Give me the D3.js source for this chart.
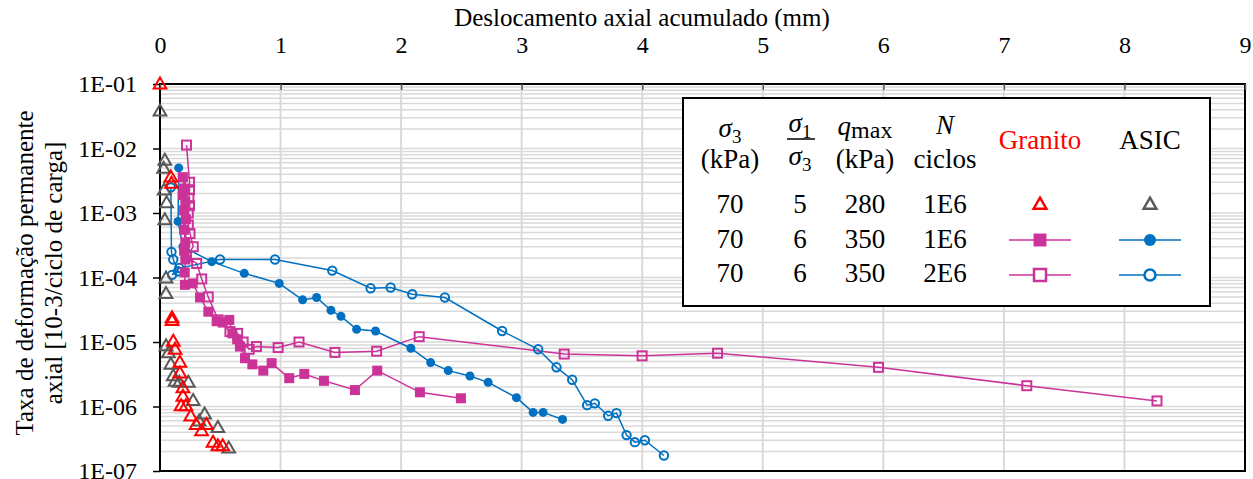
<!DOCTYPE html>
<html>
<head>
<meta charset="utf-8">
<script src="https://cdn.jsdelivr.net/npm/d3@7"></script>
<style>
  body { margin: 0; background: #fff; }
  svg text { font-family: "Liberation Serif", "Times New Roman", serif; }
</style>
</head>
<body>
<script>
// data: [deslocamento (mm), taxa]
var granito5 = [[0.0, 9.7e-2], [0.09, 3.5e-3], [0.095, 2.8e-3], [0.10, 2.3e-5], [0.10, 2.1e-5],
  [0.11, 1.0e-5], [0.125, 7.5e-6], [0.165, 4.7e-6], [0.165, 3.2e-6], [0.19, 1.9e-6], [0.19, 1.4e-6],
  [0.175, 1.0e-6], [0.215, 1.0e-6], [0.255, 6.9e-7], [0.30, 5.1e-7], [0.345, 4.1e-7], [0.385, 5.1e-7],
  [0.44, 2.7e-7], [0.48, 2.4e-7], [0.52, 2.4e-7]];
var asic5 = [[0.0, 3.7e-2], [0.04, 6.4e-3], [0.03, 4.8e-3], [0.035, 2.2e-3], [0.055, 1.4e-3],
  [0.04, 7.6e-4], [0.05, 9.5e-5], [0.05, 5.5e-5], [0.05, 8.5e-6], [0.07, 6.6e-6], [0.09, 4.4e-6],
  [0.11, 2.9e-6], [0.125, 2.4e-6], [0.16, 2.3e-6], [0.235, 2.3e-6], [0.275, 1.2e-6], [0.325, 5.8e-7],
  [0.37, 7.4e-7], [0.48, 4.6e-7], [0.57, 2.2e-7]];
var granito6_1e6 = [[0.19, 3.6e-3], [0.20, 2.4e-3], [0.19, 1.9e-3], [0.21, 1.5e-3], [0.20, 1.1e-3],
  [0.215, 8.0e-4], [0.20, 5.5e-4], [0.21, 3.5e-4], [0.20, 2.6e-4], [0.21, 1.9e-4], [0.205, 1.2e-4],
  [0.207, 7.7e-5], [0.271, 8.1e-5], [0.332, 4.9e-5], [0.401, 2.95e-5], [0.47, 2.1e-5], [0.52, 2.0e-5],
  [0.575, 2.2e-5], [0.60, 1.36e-5], [0.64, 1.1e-5], [0.663, 8.5e-6], [0.705, 5.6e-6], [0.766, 4.5e-6],
  [0.857, 3.6e-6], [0.926, 4.7e-6], [1.072, 2.75e-6], [1.197, 3.2e-6], [1.36, 2.5e-6], [1.617, 1.8e-6],
  [1.802, 3.6e-6], [2.156, 1.66e-6], [2.496, 1.34e-6]];
var granito6_2e6 = [[0.22, 1.13e-2], [0.245, 3.0e-3], [0.245, 2.3e-3], [0.24, 1.7e-3], [0.245, 1.3e-3],
  [0.235, 1.0e-3], [0.235, 6.5e-4], [0.249, 4.8e-4], [0.276, 3.0e-4], [0.22, 2.1e-4], [0.304, 1.65e-4],
  [0.346, 9.5e-5], [0.40, 5.0e-5], [0.483, 2.2e-5], [0.58, 1.45e-5], [0.644, 1.36e-5], [0.69, 1.0e-5],
  [0.74, 7.7e-6], [0.80, 8.5e-6], [0.98, 8.2e-6], [1.153, 1.0e-5], [1.451, 6.9e-6], [1.797, 7.2e-6],
  [2.15, 1.21e-5], [3.353, 6.5e-6], [3.999, 6.1e-6], [4.625, 6.7e-6], [5.96, 4.05e-6], [7.19, 2.1e-6],
  [8.27, 1.22e-6]];
var asic6_1e6 = [[0.155, 5.0e-3], [0.15, 7.4e-4], [0.19, 3.0e-4], [0.429, 1.76e-4], [0.699, 1.16e-4],
  [0.989, 8.1e-5], [1.183, 4.5e-5], [1.299, 4.9e-5], [1.418, 3.1e-5], [1.501, 2.5e-5], [1.631, 1.57e-5],
  [1.788, 1.48e-5], [2.081, 8.0e-6], [2.245, 4.8e-6], [2.391, 3.6e-6], [2.571, 2.97e-6], [2.722, 2.37e-6],
  [2.957, 1.37e-6], [3.095, 8.1e-7], [3.178, 8.1e-7], [3.339, 6.3e-7]];
var asic6_2e6 = [[0.09, 2.5e-3], [0.095, 2.5e-4], [0.11, 1.9e-4], [0.15, 1.25e-4], [0.10, 1.1e-4],
  [0.16, 1.4e-4], [0.498, 1.9e-4], [0.954, 1.9e-4], [1.429, 1.28e-4], [1.747, 6.8e-5], [1.913, 7.0e-5],
  [2.092, 5.5e-5], [2.363, 4.9e-5], [2.838, 1.48e-5], [3.137, 7.7e-6], [3.289, 4.05e-6], [3.419, 2.6e-6],
  [3.543, 1.05e-6], [3.607, 1.12e-6], [3.717, 7.2e-7], [3.787, 7.9e-7], [3.87, 3.6e-7], [3.939, 2.8e-7],
  [4.022, 3.0e-7], [4.18, 1.74e-7]];

var xTicks = [0, 1, 2, 3, 4, 5, 6, 7, 8, 9];
var yTicks = [1e-7, 1e-6, 1e-5, 1e-4, 1e-3, 1e-2, 1e-1];
var legendRows = [["70", "5", "280", "1E6"], ["70", "6", "350", "1E6"], ["70", "6", "350", "2E6"]];

var RED = "#FF0000", GREY = "#595959", MAG = "#CC3399", BLUE = "#0070C0";

var W = 1253, H = 479;
var margin = {top: 84, right: 8, bottom: 8, left: 160};

var x = d3.scaleLinear().domain([0, 9]).range([margin.left, W - margin.right]);
var y = d3.scaleLog().domain([1e-7, 1e-1]).range([H - margin.bottom, margin.top]);

var svg = d3.select("body").append("svg")
    .attr("width", W)
    .attr("height", H);

// horizontal grid (minor values of each decade)
var hGrid = [];
for (var e = -7; e < -1; e++) {
  for (var k = 1; k <= 9; k++) hGrid.push(k * Math.pow(10, e));
}
svg.append("g").selectAll("line")
    .data(hGrid)
    .enter().append("line")
    .attr("x1", x(0)).attr("x2", x(9))
    .attr("y1", d => y(d)).attr("y2", d => y(d))
    .attr("stroke", "#d9d9d9")
    .attr("stroke-width", 1.5);

// vertical grid
svg.append("g").selectAll("line")
    .data(xTicks.slice(1, -1))
    .enter().append("line")
    .attr("x1", d => x(d)).attr("x2", d => x(d))
    .attr("y1", y(1e-1)).attr("y2", y(1e-7))
    .attr("stroke", "#d9d9d9")
    .attr("stroke-width", 2);

// plot border
svg.append("rect")
    .attr("x", x(0)).attr("y", y(1e-1))
    .attr("width", x(9) - x(0)).attr("height", y(1e-7) - y(1e-1))
    .attr("fill", "none")
    .attr("stroke", "#000")
    .attr("stroke-width", 2);

// x axis at top
var xAxis = svg.append("g")
    .attr("transform", "translate(0," + y(1e-1) + ")")
    .call(d3.axisTop(x).tickValues(xTicks).tickSize(-6).tickPadding(31).tickFormat(d3.format("d")));
xAxis.select(".domain").remove();
xAxis.selectAll("line").attr("stroke", "#595959").attr("stroke-width", 1.5);
xAxis.selectAll("text").attr("font-size", 24).attr("fill", "#000")
    .style("font-family", "'Liberation Serif', serif");

// y axis
var yAxis = svg.append("g")
    .attr("transform", "translate(" + x(0) + ",0)")
    .call(d3.axisLeft(y).tickValues(yTicks).tickSize(7).tickPadding(16)
      .tickFormat(d => "1E-" + String(-Math.round(Math.log10(d))).padStart(2, "0")));
yAxis.select(".domain").remove();
yAxis.selectAll("line").attr("stroke", "#000").attr("stroke-width", 1.5);
yAxis.selectAll("text").attr("font-size", 24).attr("fill", "#000")
    .style("font-family", "'Liberation Serif', serif");

// axis titles
svg.append("text")
    .attr("x", 642).attr("y", 26)
    .attr("text-anchor", "middle")
    .attr("font-size", 25)
    .text("Deslocamento axial acumulado (mm)");

var midY = 273;
svg.append("text")
    .attr("transform", "translate(33," + midY + ") rotate(-90)")
    .attr("text-anchor", "middle")
    .attr("font-size", 25)
    .text("Taxa de deformação permanente");
svg.append("text")
    .attr("transform", "translate(62," + midY + ") rotate(-90)")
    .attr("text-anchor", "middle")
    .attr("font-size", 25)
    .text("axial [10-3/ciclo de carga]");

// series
var line = d3.line().x(d => x(d[0])).y(d => y(d[1]));
var tri = d3.symbol().type(d3.symbolTriangle).size(70);

function drawLine(data, color) {
  svg.append("path")
      .datum(data)
      .attr("d", line)
      .attr("fill", "none")
      .attr("stroke", color)
      .attr("stroke-width", 1.5);
}
function drawTriangles(data, color) {
  svg.append("g").selectAll("path")
      .data(data)
      .enter().append("path")
      .attr("d", tri)
      .attr("transform", d => "translate(" + x(d[0]) + "," + y(d[1]) + ")")
      .attr("fill", "none")
      .attr("stroke", color)
      .attr("stroke-width", 2);
}
function drawSquares(data, color, filled) {
  var s = filled ? 10 : 9;
  svg.append("g").selectAll("rect")
      .data(data)
      .enter().append("rect")
      .attr("x", d => x(d[0]) - s / 2)
      .attr("y", d => y(d[1]) - s / 2)
      .attr("width", s).attr("height", s)
      .attr("fill", filled ? color : "none")
      .attr("stroke", color)
      .attr("stroke-width", filled ? 0 : 2);
}
function drawCircles(data, color, filled) {
  svg.append("g").selectAll("circle")
      .data(data)
      .enter().append("circle")
      .attr("cx", d => x(d[0]))
      .attr("cy", d => y(d[1]))
      .attr("r", filled ? 4.5 : 4.2)
      .attr("fill", filled ? color : "none")
      .attr("stroke", color)
      .attr("stroke-width", filled ? 0 : 2);
}

drawLine(granito6_2e6, MAG);
drawLine(granito6_1e6, MAG);
drawLine(asic6_2e6, BLUE);
drawLine(asic6_1e6, BLUE);
drawCircles(asic6_2e6, BLUE, false);
drawCircles(asic6_1e6, BLUE, true);
drawSquares(granito6_2e6, MAG, false);
drawSquares(granito6_1e6, MAG, true);
drawTriangles(asic5, GREY);
drawTriangles(granito5, RED);

// legend table
var lg = svg.append("g");
lg.append("rect")
    .attr("x", 683).attr("y", 98)
    .attr("width", 527).attr("height", 208)
    .attr("fill", "#fff")
    .attr("stroke", "#000")
    .attr("stroke-width", 2);

var colX = [730, 800, 865, 945, 1040, 1150];
var fs = 27;

function sym(g, cx, cy, main, sub) {
  var t = g.append("text").attr("x", cx).attr("y", cy).attr("text-anchor", "middle").attr("font-size", fs);
  t.append("tspan").attr("font-style", "italic").text(main);
  t.append("tspan").attr("font-size", 19).attr("dy", 6).text(sub);
  return t;
}

sym(lg, colX[0], 137, "σ", "3");
lg.append("text").attr("x", colX[0]).attr("y", 168).attr("text-anchor", "middle").attr("font-size", fs).text("(kPa)");

sym(lg, colX[1], 132, "σ", "1");
lg.append("line").attr("x1", 787).attr("x2", 815).attr("y1", 139).attr("y2", 139)
    .attr("stroke", "#000").attr("stroke-width", 1.5);
sym(lg, colX[1], 165, "σ", "3");

var qt = lg.append("text").attr("x", colX[2]).attr("y", 135).attr("text-anchor", "middle").attr("font-size", fs);
qt.append("tspan").attr("font-style", "italic").text("q");
qt.append("tspan").attr("font-size", 24).attr("dy", 3).text("max");
lg.append("text").attr("x", colX[2]).attr("y", 168).attr("text-anchor", "middle").attr("font-size", fs).text("(kPa)");

lg.append("text").attr("x", colX[3]).attr("y", 134).attr("text-anchor", "middle").attr("font-size", fs)
    .attr("font-style", "italic").text("N");
lg.append("text").attr("x", colX[3]).attr("y", 168).attr("text-anchor", "middle").attr("font-size", fs).text("ciclos");

lg.append("text").attr("x", colX[4]).attr("y", 149).attr("text-anchor", "middle").attr("font-size", fs)
    .attr("fill", RED).text("Granito");
lg.append("text").attr("x", colX[5]).attr("y", 149).attr("text-anchor", "middle").attr("font-size", fs)
    .attr("fill", "#000").text("ASIC");

var rowY = [213, 248, 282];
legendRows.forEach(function(r, i) {
  r.forEach(function(v, j) {
    lg.append("text").attr("x", colX[j]).attr("y", rowY[i]).attr("text-anchor", "middle")
        .attr("font-size", fs).text(v);
  });
});

var mY = [205, 240, 275];
// row 1: triangles only
lg.append("path").attr("d", tri).attr("transform", "translate(" + colX[4] + "," + mY[0] + ")")
    .attr("fill", "none").attr("stroke", RED).attr("stroke-width", 2.5);
lg.append("path").attr("d", tri).attr("transform", "translate(" + colX[5] + "," + mY[0] + ")")
    .attr("fill", "none").attr("stroke", GREY).attr("stroke-width", 2.5);
// rows 2, 3: line + marker
[1, 2].forEach(function(i) {
  lg.append("line").attr("x1", colX[4] - 31).attr("x2", colX[4] + 31).attr("y1", mY[i]).attr("y2", mY[i])
      .attr("stroke", MAG).attr("stroke-width", 1.5);
  lg.append("line").attr("x1", colX[5] - 31).attr("x2", colX[5] + 31).attr("y1", mY[i]).attr("y2", mY[i])
      .attr("stroke", BLUE).attr("stroke-width", 1.5);
});
lg.append("rect").attr("x", colX[4] - 6.5).attr("y", mY[1] - 6.5).attr("width", 13).attr("height", 13)
    .attr("fill", MAG);
lg.append("rect").attr("x", colX[4] - 6).attr("y", mY[2] - 6).attr("width", 12).attr("height", 12)
    .attr("fill", "#fff").attr("stroke", MAG).attr("stroke-width", 2.5);
lg.append("circle").attr("cx", colX[5]).attr("cy", mY[1]).attr("r", 6).attr("fill", BLUE);
lg.append("circle").attr("cx", colX[5]).attr("cy", mY[2]).attr("r", 5.5)
    .attr("fill", "#fff").attr("stroke", BLUE).attr("stroke-width", 2.5);
</script>
</body>
</html>
